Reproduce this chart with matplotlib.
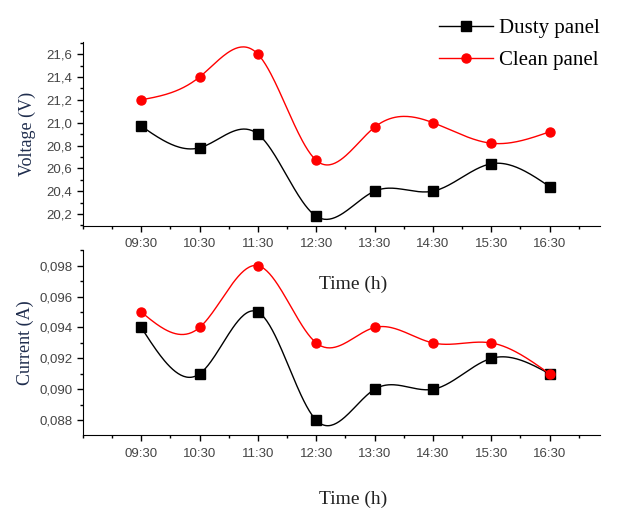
import numpy as np
import matplotlib.pyplot as plt
from matplotlib.ticker import FuncFormatter, MultipleLocator

horas = ['09:30', '10:30', '11:30', '12:30', '13:30', '14:30', '15:30', '16:30']
tensao_suja = [20.97, 20.78, 20.90, 20.18, 20.40, 20.40, 20.64, 20.44]
tensao_limpa = [21.20, 21.40, 21.60, 20.67, 20.96, 21.00, 20.82, 20.92]
corrente_suja = [0.094, 0.091, 0.095, 0.088, 0.090, 0.090, 0.092, 0.091]
corrente_limpa = [0.095, 0.094, 0.098, 0.093, 0.094, 0.093, 0.093, 0.091]


def spline(x, y, n=300):
    # spline cubica natural, so para desenhar a curva suave
    x = np.asarray(x, float)
    y = np.asarray(y, float)
    k = len(x)
    h = np.diff(x)
    A = np.zeros((k, k))
    b = np.zeros(k)
    A[0, 0] = A[-1, -1] = 1
    for i in range(1, k - 1):
        A[i, i - 1] = h[i - 1]
        A[i, i] = 2 * (h[i - 1] + h[i])
        A[i, i + 1] = h[i]
        b[i] = 6 * ((y[i + 1] - y[i]) / h[i] - (y[i] - y[i - 1]) / h[i - 1])
    M = np.linalg.solve(A, b)
    xs = np.linspace(x[0], x[-1], n)
    idx = np.clip(np.searchsorted(x, xs) - 1, 0, k - 2)
    x0, x1 = x[idx], x[idx + 1]
    hh = x1 - x0
    t0, t1 = x1 - xs, xs - x0
    ys = (M[idx] * t0 ** 3 + M[idx + 1] * t1 ** 3) / (6 * hh) \
        + (y[idx] / hh - M[idx] * hh / 6) * t0 \
        + (y[idx + 1] / hh - M[idx + 1] * hh / 6) * t1
    return xs, ys


def virgula(casas):
    return FuncFormatter(lambda v, p: f'{v:.{casas}f}'.replace('.', ','))


serif = 'Liberation Serif'
sans = 'Liberation Sans'
cor_rotulo = '#1f2d4d'

fig = plt.figure(figsize=(6.28, 5.12), dpi=100)
ax1 = fig.add_axes([0.132, 0.5586, 0.823, 0.359])
ax2 = fig.add_axes([0.132, 0.150, 0.823, 0.3613])
ax2.set_facecolor('none')

x = np.arange(1, len(horas) + 1)
dados = [(ax1, tensao_suja, tensao_limpa), (ax2, corrente_suja, corrente_limpa)]
for ax, suja, limpa in dados:
    xs, ys = spline(x, suja)
    ax.plot(xs, ys, color='black', lw=1)
    ax.plot(x, suja, 's', color='black', ms=6.5)
    xs, ys = spline(x, limpa)
    ax.plot(xs, ys, color='red', lw=1)
    ax.plot(x, limpa, 'o', color='red', ms=6.5)
    ax.set_xlim(0, 8.86)
    ax.set_xticks(x)
    ax.set_xticklabels(horas)
    ax.xaxis.set_minor_locator(MultipleLocator(0.5))
    ax.spines['top'].set_visible(False)
    ax.spines['right'].set_visible(False)
    ax.tick_params(which='major', direction='out', length=4, width=1,
                   labelsize=9.5, labelcolor='#444444')
    ax.tick_params(axis='x', which='major', pad=5)
    ax.tick_params(which='minor', direction='out', length=2.5, width=1)
    for lab in ax.get_xticklabels() + ax.get_yticklabels():
        lab.set_fontfamily(sans)
    ax.set_xlabel('Time (h)', fontfamily=serif, fontsize=14, color='#222222')

ax1.set_ylim(20.095, 21.705)
ax1.yaxis.set_major_locator(MultipleLocator(0.2))
ax1.yaxis.set_minor_locator(MultipleLocator(0.1))
ax1.yaxis.set_major_formatter(virgula(1))
ax1.set_ylabel('Voltage (V)', fontfamily=serif, fontsize=13, color=cor_rotulo)
ax1.yaxis.set_label_coords(-0.09, 0.5)
ax1.xaxis.set_label_coords(0.522, -0.27)

ax2.set_ylim(0.08703, 0.099)
ax2.yaxis.set_major_locator(MultipleLocator(0.002))
ax2.yaxis.set_minor_locator(MultipleLocator(0.001))
ax2.yaxis.set_major_formatter(virgula(3))
ax2.set_ylabel('Current (A)', fontfamily=serif, fontsize=13, color=cor_rotulo)
ax2.yaxis.set_label_coords(-0.095, 0.5)
ax2.xaxis.set_label_coords(0.522, -0.30)

h1 = ax1.plot([], [], '-s', color='black', ms=6.5, lw=1)[0]
h2 = ax1.plot([], [], '-o', color='red', ms=6.5, lw=1)[0]
fig.legend([h1, h2], ['Dusty panel', 'Clean panel'], loc='upper right',
           bbox_to_anchor=(0.985, 1.0), frameon=False, handlelength=2.6,
           handletextpad=0.3, labelspacing=0.6,
           prop={'family': serif, 'size': 15})

fig.savefig('out.png', dpi=100)
